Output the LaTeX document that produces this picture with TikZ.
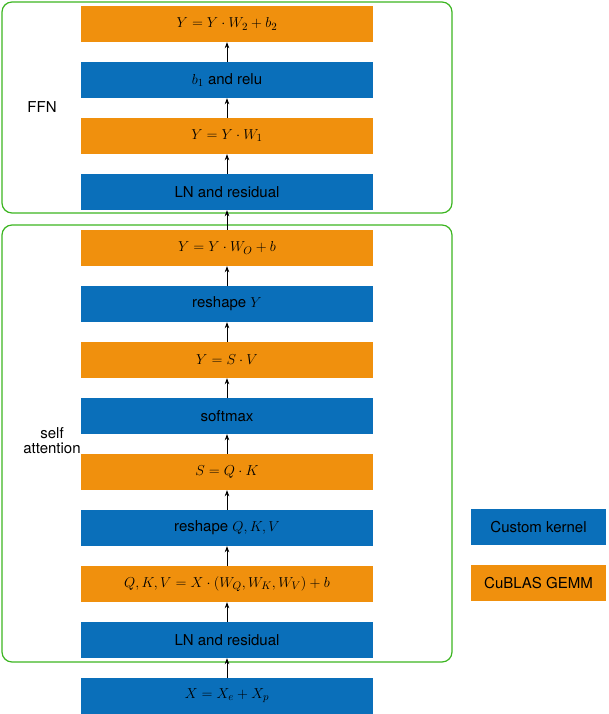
\documentclass[tikz,border=0pt]{standalone}
\usepackage{fontspec}
\setmainfont{TeX Gyre Heros}
\usetikzlibrary{arrows.meta}
\definecolor{kblue}{HTML}{0A6FBA}
\definecolor{korange}{HTML}{F0900D}
\definecolor{kgreen}{HTML}{3CB521}
\begin{document}
\begin{tikzpicture}[x=1pt,y=-1pt,
  box/.style={minimum width=292pt,minimum height=36pt,inner sep=0pt,text=black,font=\fontsize{15}{17}\selectfont},
  cu/.style={box,fill=kblue},
  gm/.style={box,fill=korange},
  leg/.style={minimum width=135pt,minimum height=36pt,inner sep=0pt,font=\fontsize{15}{17}\selectfont},
  grp/.style={draw=kgreen,line width=1.2pt,rounded corners=10pt},
  arr/.style={-{Stealth[length=6pt,width=4.5pt]},line width=0.7pt},
  lab/.style={font=\fontsize{15}{17}\selectfont,align=center}]
\useasboundingbox (0,0) rectangle (608,714);
\draw[grp] (2,2) rectangle (452,213);
\draw[grp] (2,225) rectangle (452,662);
\node[gm] (n1) at (227,24) {$Y=Y\cdot W_2+b_2$};
\node[cu] (n2) at (227,80) {$b_1$ and relu};
\node[gm] (n3) at (227,136) {$Y=Y\cdot W_1$};
\node[cu] (n4) at (227,192) {LN and residual};
\node[gm] (n5) at (227,248) {$Y=Y\cdot W_O+b$};
\node[cu] (n6) at (227,304) {reshape $Y$};
\node[gm] (n7) at (227,360) {$Y=S\cdot V$};
\node[cu] (n8) at (227,416) {softmax};
\node[gm] (n9) at (227,472) {$S=Q\cdot K$};
\node[cu] (n10) at (227,528) {reshape $Q,K,V$};
\node[gm] (n11) at (227,584) {$Q,K,V=X\cdot(W_Q,W_K,W_V)+b$};
\node[cu] (n12) at (227,640) {LN and residual};
\node[cu] (n13) at (227,696) {$X=X_e+X_p$};
\foreach \a/\b in {n13/n12,n12/n11,n11/n10,n10/n9,n9/n8,n8/n7,n7/n6,n6/n5,n5/n4,n4/n3,n3/n2,n2/n1}
  \draw[arr] (\a.north) -- (\b.south);
\node[lab] (ffn) at (42,107) {FFN};
\node[lab] (sa) at (52,441) {self\\[-2pt]attention};
\node[leg,fill=kblue] (l1) at (538.5,527) {Custom kernel};
\node[leg,fill=korange] (l2) at (538.5,583) {CuBLAS GEMM};
\end{tikzpicture}
\end{document}
